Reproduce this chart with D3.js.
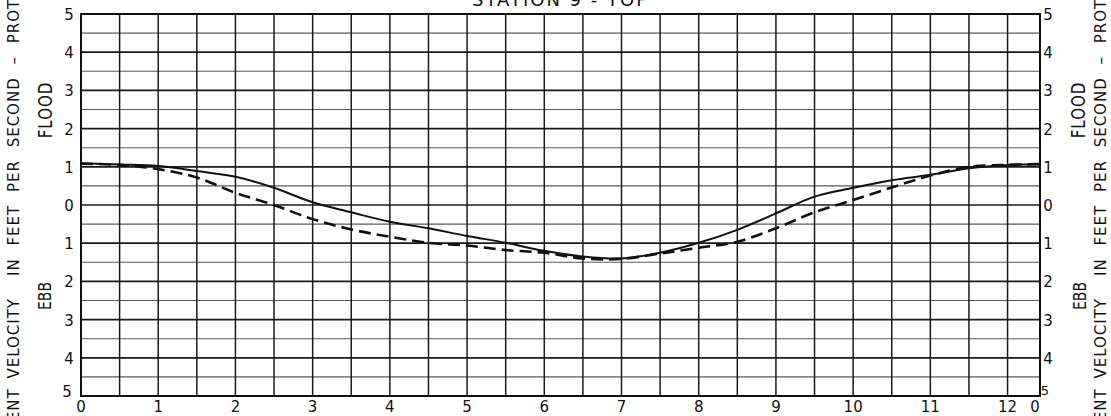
<!DOCTYPE html>
<html>
<head>
<meta charset="utf-8">
<script src="https://cdn.jsdelivr.net/npm/d3@7"></script>
<style>
  html, body { margin: 0; padding: 0; background: #fff; }
  svg { display: block; }
  text { font-family: "DejaVu Sans", "Liberation Sans", sans-serif; fill: #111; }
</style>
</head>
<body>
<svg id="chart" width="1111" height="416"></svg>
<script>
// ---- data ----
const title = "STATION 9 - TOP";
const hours = [0,0.5,1,1.5,2,2.5,3,3.5,4,4.5,5,5.5,6,6.5,7,7.5,8,8.5,9,9.5,10,10.5,11,11.5,12,12.42];
const solidVel = [1.09,1.06,1.02,0.89,0.74,0.45,0.07,-0.19,-0.44,-0.61,-0.81,-0.99,-1.20,-1.35,-1.40,-1.25,-0.99,-0.65,-0.22,0.22,0.45,0.65,0.79,0.96,1.05,1.07];
const dashedVel = [1.08,1.05,0.94,0.72,0.32,0.0,-0.37,-0.64,-0.83,-0.99,-1.06,-1.18,-1.25,-1.40,-1.41,-1.27,-1.12,-0.96,-0.61,-0.19,0.13,0.46,0.77,1.00,1.05,1.07];
const xTickValues = [0,1,2,3,4,5,6,7,8,9,10,11,12];
const xTickLabels = ["0","1","2","3","4","5","6","7","8","9","10","11","12"];
const yTickValues = [5,4,3,2,1,0,-1,-2,-3,-4,-5];
const yTickLabels = ["5","4","3","2","1","0","1","2","3","4","5"];
const cycleEnd = 12.42;
const axisLabelA = "CURRENT VELOCITY";
const axisLabelB = "IN FEET PER SECOND \u2013 PROTOTYPE";

// ---- layout ----
const svg = d3.select("#chart");
const pL = 81, pR = 1040, pT = 14, pB = 396;
const x = d3.scaleLinear().domain([0, cycleEnd]).range([pL, pR]);
const y = d3.scaleLinear().domain([-5, 5]).range([pB, pT]);

// horizontal grid
const hLines = d3.range(-5, 5.01, 0.5);
svg.append("g").selectAll("line").data(hLines).join("line")
  .attr("x1", pL).attr("x2", pR)
  .attr("y1", d => y(d)).attr("y2", d => y(d))
  .attr("stroke", d => Number.isInteger(d) ? "#1a1a1a" : "#5a5a5a")
  .attr("stroke-width", d => Number.isInteger(d) ? 1.7 : 1.1);

// vertical grid
const vLines = d3.range(0, 12.01, 0.5);
svg.append("g").selectAll("line").data(vLines).join("line")
  .attr("x1", d => x(d)).attr("x2", d => x(d))
  .attr("y1", pT).attr("y2", pB)
  .attr("stroke", "#1a1a1a").attr("stroke-width", 1.5);

// frame
svg.append("rect").attr("x", pL).attr("y", pT)
  .attr("width", pR - pL).attr("height", pB - pT)
  .attr("fill", "none").attr("stroke", "#111").attr("stroke-width", 2);

// curves
const line = d3.line().x((d, i) => x(hours[i])).y(d => y(d)).curve(d3.curveCatmullRom.alpha(0.5));
svg.append("path").datum(solidVel).attr("d", line)
  .attr("fill", "none").attr("stroke", "#111").attr("stroke-width", 2);
svg.append("path").datum(dashedVel).attr("d", line)
  .attr("fill", "none").attr("stroke", "#111").attr("stroke-width", 2.6)
  .attr("stroke-dasharray", "12,6");

// x tick labels
svg.append("g").selectAll("text").data(xTickValues).join("text")
  .attr("x", d => x(d)).attr("y", 412)
  .attr("text-anchor", "middle").attr("font-size", 15)
  .text((d, i) => xTickLabels[i]);
svg.append("text").attr("x", x(cycleEnd) - 5).attr("y", 412)
  .attr("text-anchor", "middle").attr("font-size", 15).text("0");

// y tick labels left & right
svg.append("g").selectAll("text").data(yTickValues).join("text")
  .attr("x", d => d === -5 ? 67 : 69).attr("y", d => y(d) + (d === -5 ? 1 : 6))
  .attr("text-anchor", "middle").attr("font-size", 15)
  .text((d, i) => yTickLabels[i]);
svg.append("g").selectAll("text").data(yTickValues).join("text")
  .attr("x", d => d === -5 ? 1045 : 1048).attr("y", d => y(d) + (d === -5 ? -1 : 6))
  .attr("text-anchor", "middle").attr("font-size", d => d === -5 ? 13 : 15)
  .text((d, i) => yTickLabels[i]);

// title
svg.append("text").attr("x", (pL + pR) / 2).attr("y", 6)
  .attr("text-anchor", "middle").attr("font-size", 18).attr("letter-spacing", 2)
  .text(title);

// side labels
function vText(cx, cy, txt, size, spacing, anchor, ws, sy) {
  svg.append("text").attr("transform", `translate(${cx},${cy}) rotate(-90) scale(1,${sy || 1})`)
    .attr("text-anchor", anchor || "middle").attr("font-size", size)
    .attr("letter-spacing", spacing).attr("word-spacing", ws || 0).text(txt);
}
vText(52, 110, "FLOOD", 15, 1, "middle", 0, 1.25);
vText(51, 296, "EBB", 14, 0, "middle", 0, 1.25);
vText(1085, 110, "FLOOD", 15, 1, "middle", 0, 1.25);
vText(1086, 296, "EBB", 14, 0, "middle", 0, 1.25);
[18.5, 1105.5].forEach(bx => {
  vText(bx, 298, axisLabelA, 15, 1, "end", 4);
  vText(bx, 276, axisLabelB, 15, 1, "start", 7);
});
</script>
</body>
</html>
